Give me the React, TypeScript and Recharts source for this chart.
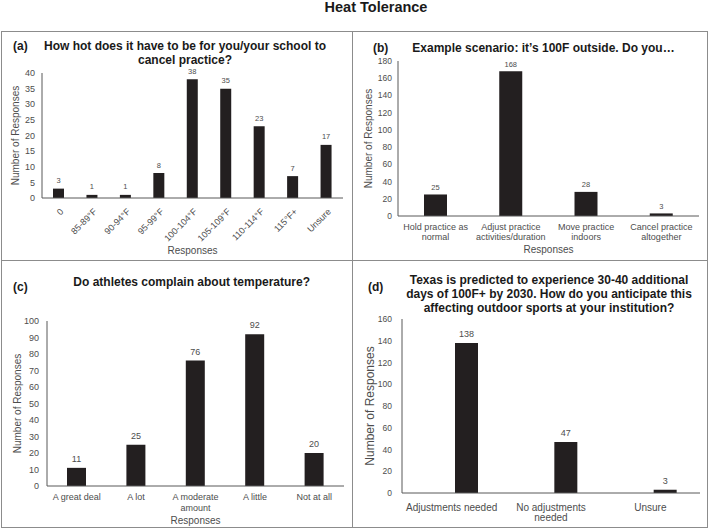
import React from "react";
import { BarChart, Bar, XAxis, YAxis, LabelList, Label } from "recharts";

const FONT = '"Liberation Sans", Arial, Helvetica, sans-serif';
const TEXT = "#4d4d4d";
const AXIS = "#595959";
const BAR = "#231f20";
const BORDER = "#8c8c8c";

// (a) cancel threshold
const aCategories = ["0", "85-89°F", "90-94°F", "95-99°F", "100-104°F", "105-109°F", "110-114°F", "115°F+", "Unsure"];
const aValues = [3, 1, 1, 8, 38, 35, 23, 7, 17];
const aTicks = [0, 5, 10, 15, 20, 25, 30, 35, 40];

// (b) 100F scenario
const bCategories = ["Hold practice as\nnormal", "Adjust practice\nactivities/duration", "Move practice\nindoors", "Cancel practice\naltogether"];
const bValues = [25, 168, 28, 3];
const bTicks = [0, 20, 40, 60, 80, 100, 120, 140, 160, 180];

// (c) complaints
const cCategories = ["A great deal", "A lot", "A moderate\namount", "A little", "Not at all"];
const cValues = [11, 25, 76, 92, 20];
const cTicks = [0, 10, 20, 30, 40, 50, 60, 70, 80, 90, 100];

// (d) future impact (first series is empty in the source chart)
const dCategories = ["Adjustments needed", "No adjustments\nneeded", "Unsure"];
const dBlank = [null, null, null];
const dValues = [138, 47, 3];
const dTicks = [0, 20, 40, 60, 80, 100, 120, 140, 160];

const toRows = (cats: string[], vals: number[]) => cats.map((name, i) => ({ name, value: vals[i] }));
const dRows = dCategories.map((name, i) => ({ name, blank: dBlank[i], value: dValues[i] }));

function WrappedTick(props: any) {
  const { x, y, payload, size, lineHeight, firstDy } = props;
  const lines = String(payload.value).split("\n");
  return (
    <text x={x} y={y + firstDy} textAnchor="middle" fill={TEXT} fontSize={size} fontFamily={FONT}>
      {lines.map((l, i) => (
        <tspan key={i} x={x} dy={i === 0 ? 0 : lineHeight}>
          {l}
        </tspan>
      ))}
    </text>
  );
}

function SlantTick(props: any) {
  const { x, y, payload } = props;
  const px = x + 3;
  const py = y + 12;
  return (
    <text x={px} y={py} dy="0.35em" textAnchor="end" fill={TEXT} fontSize={9} fontFamily={FONT} transform={`rotate(-45 ${px} ${py})`}>
      {payload.value}
    </text>
  );
}

const yTick = (size: number) => ({ fill: TEXT, fontSize: size, fontFamily: FONT });

function Heading({ x, y, lines, center = true }: { x: number; y: number; lines: string[]; center?: boolean }) {
  return (
    <div
      style={{
        position: "absolute",
        left: x,
        top: y,
        transform: center ? "translateX(-50%)" : undefined,
        textAlign: "center",
        whiteSpace: "nowrap",
        fontFamily: FONT,
        fontWeight: "bold",
        fontSize: 12,
        lineHeight: "14.2px",
        color: "#1a1a1a",
      }}
    >
      {lines.map((l, i) => (
        <div key={i}>{l}</div>
      ))}
    </div>
  );
}

const line = (left: number, top: number, width: number, height: number) => (
  <div style={{ position: "absolute", left, top, width, height, background: BORDER }} />
);

export default function App() {
  return (
    <div style={{ position: "absolute", left: 0, top: 0, width: 709, height: 529, background: "#fff", fontFamily: FONT }}>
      <div
        style={{
          position: "absolute",
          left: 376,
          top: 0,
          transform: "translateX(-50%)",
          fontSize: 14.5,
          fontWeight: "bold",
          lineHeight: "15px",
          color: "#1a1a1a",
          whiteSpace: "nowrap",
        }}
      >
        Heat Tolerance
      </div>

      {line(1, 31, 707, 1)}
      {line(1, 527, 707, 1)}
      {line(1, 31, 1, 497)}
      {line(707, 31, 1, 497)}
      {line(352, 31, 1, 497)}
      {line(1, 260, 707, 1)}

      {/* (a) */}
      <div style={{ position: "absolute", left: 0, top: 31 }}>
        <BarChart width={353} height={228} data={toRows(aCategories, aValues)} margin={{ top: 42, right: 10, left: 12, bottom: 5 }}>
          <YAxis type="number" domain={[0, 40]} ticks={aTicks} interval={0} width={30} tickLine={false} tickSize={0} tickMargin={7} axisLine={{ stroke: AXIS }} tick={yTick(9)}>
            <Label value="Number of Responses" angle={-90} position="insideLeft" offset={3} style={{ textAnchor: "middle" }} fill={TEXT} fontSize={10} fontFamily={FONT} />
          </YAxis>
          <XAxis dataKey="name" interval={0} height={56} tickLine={false} tickSize={0} tickMargin={0} axisLine={{ stroke: AXIS }} tick={(p: any) => <SlantTick {...p} />}>
            <Label value="Responses" position="insideBottom" offset={0} fill={TEXT} fontSize={10} fontFamily={FONT} />
          </XAxis>
          <Bar dataKey="value" fill={BAR} barSize={11} isAnimationActive={false}>
            <LabelList dataKey="value" position="top" offset={5.5} fill={TEXT} fontSize={7.5} fontFamily={FONT} />
          </Bar>
        </BarChart>
      </div>

      {/* (b) */}
      <div style={{ position: "absolute", left: 353, top: 31 }}>
        <BarChart width={356} height={229} data={toRows(bCategories, bValues)} margin={{ top: 30, right: 10, left: 14, bottom: 7 }}>
          <YAxis type="number" domain={[0, 180]} ticks={bTicks} interval={0} width={31} tickLine={false} tickSize={0} tickMargin={6} axisLine={{ stroke: AXIS }} tick={yTick(8.5)}>
            <Label value="Number of Responses" angle={-90} position="insideLeft" offset={1} style={{ textAnchor: "middle" }} fill={TEXT} fontSize={10} fontFamily={FONT} />
          </YAxis>
          <XAxis dataKey="name" interval={0} height={37} tickLine={false} tickSize={0} tickMargin={0} axisLine={{ stroke: AXIS }} tick={(p: any) => <WrappedTick {...p} size={9} lineHeight={10} firstDy={14.3} />}>
            <Label value="Responses" position="insideBottom" offset={0} fill={TEXT} fontSize={10} fontFamily={FONT} />
          </XAxis>
          <Bar dataKey="value" fill={BAR} barSize={23} isAnimationActive={false}>
            <LabelList dataKey="value" position="top" offset={4.7} fill={TEXT} fontSize={7.5} fontFamily={FONT} />
          </Bar>
        </BarChart>
      </div>

      {/* (c) */}
      <div style={{ position: "absolute", left: 0, top: 260 }}>
        <BarChart width={353} height={268} data={toRows(cCategories, cValues)} margin={{ top: 61, right: 9, left: 15, bottom: 2 }}>
          <YAxis type="number" domain={[0, 100]} ticks={cTicks} interval={0} width={32} tickLine={false} tickSize={0} tickMargin={8} axisLine={{ stroke: AXIS }} tick={yTick(9)}>
            <Label value="Number of Responses" angle={-90} position="insideLeft" offset={2} style={{ textAnchor: "middle" }} fill={TEXT} fontSize={10} fontFamily={FONT} />
          </YAxis>
          <XAxis dataKey="name" interval={0} height={40} tickLine={false} tickSize={0} tickMargin={0} axisLine={{ stroke: AXIS }} tick={(p: any) => <WrappedTick {...p} size={9} lineHeight={11} firstDy={14.2} />}>
            <Label value="Responses" position="insideBottom" offset={2} fill={TEXT} fontSize={10} fontFamily={FONT} />
          </XAxis>
          <Bar dataKey="value" fill={BAR} barSize={19} isAnimationActive={false}>
            <LabelList dataKey="value" position="top" offset={6} fill={TEXT} fontSize={9} fontFamily={FONT} />
          </Bar>
        </BarChart>
      </div>

      {/* (d) */}
      <div style={{ position: "absolute", left: 353, top: 260 }}>
        <BarChart width={356} height={268} data={dRows} barGap={6} margin={{ top: 59, right: 9, left: 14, bottom: 0 }}>
          <YAxis type="number" domain={[0, 160]} ticks={dTicks} interval={0} width={35} tickLine={false} tickSize={0} tickMargin={10} axisLine={{ stroke: AXIS }} tick={yTick(8.5)}>
            <Label value="Number of Responses" angle={-90} position="insideLeft" offset={3} style={{ textAnchor: "middle" }} fill={TEXT} fontSize={12} fontFamily={FONT} />
          </YAxis>
          <XAxis dataKey="name" interval={0} height={35} tickLine={false} tickSize={0} tickMargin={0} axisLine={{ stroke: AXIS }} tick={(p: any) => <WrappedTick {...p} size={10} lineHeight={10.5} firstDy={17.5} />} />
          <Bar dataKey="blank" fill={BAR} barSize={23} isAnimationActive={false} />
          <Bar dataKey="value" fill={BAR} barSize={23} isAnimationActive={false}>
            <LabelList dataKey="value" position="top" offset={5.5} fill={TEXT} fontSize={9} fontFamily={FONT} />
          </Bar>
        </BarChart>
      </div>

      <Heading x={13} y={38.7} lines={["(a)"]} center={false} />
      <Heading x={185} y={38.7} lines={["How hot does it have to be for you/your school to", "cancel practice?"]} />
      <Heading x={373} y={41} lines={["(b)"]} center={false} />
      <Heading x={543.5} y={41} lines={["Example scenario: it’s 100F outside. Do you…"]} />
      <Heading x={13} y={280} lines={["(c)"]} center={false} />
      <Heading x={191.7} y={275} lines={["Do athletes complain about temperature?"]} />
      <Heading x={368} y={280} lines={["(d)"]} center={false} />
      <Heading
        x={549}
        y={273}
        lines={["Texas is predicted to experience 30-40 additional", "days of 100F+ by 2030. How do you anticipate this", "affecting outdoor sports at your institution?"]}
      />
    </div>
  );
}
